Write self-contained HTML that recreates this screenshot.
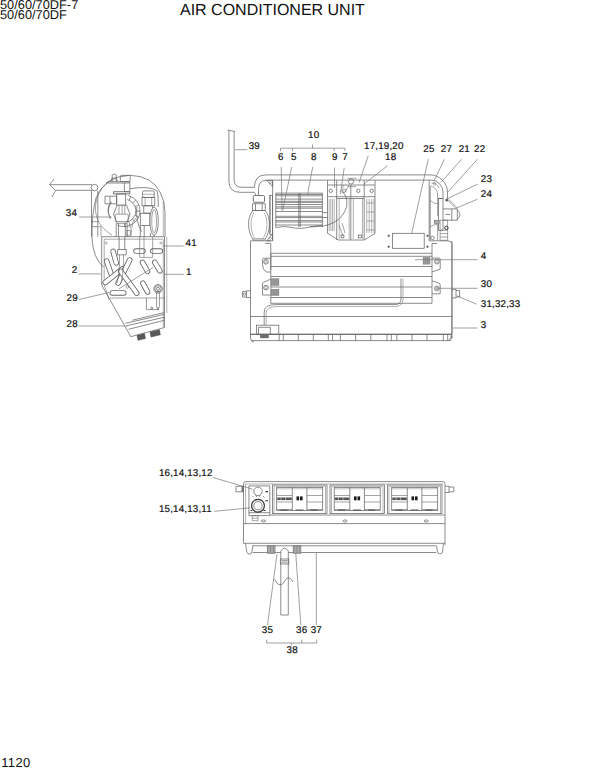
<!DOCTYPE html>
<html><head><meta charset="utf-8">
<style>
html,body{margin:0;padding:0;background:#fff;}
body{width:600px;height:776px;overflow:hidden;position:relative;}
svg{position:absolute;left:0;top:0;}
text{font-family:"Liberation Sans",sans-serif;fill:#111;stroke:#111;stroke-width:0.2px;text-rendering:geometricPrecision;}
.l{font-size:9.8px;letter-spacing:0.18px;}
.h{stroke:none;}
</style></head><body>
<svg width="600" height="776" viewBox="0 0 600 776">
<g fill="none" stroke="#666" stroke-width="0.75">
<g id="main">
<path d="M227.5,130 L235,131.6 M228.9,130.3 V181 Q228.9,192.3 240,192.3 H254.4 L256,195.2 M234.1,131.4 V180 Q234.1,187.3 242,187.3 H254.4" />
<path d="M254.4,187.6 Q254.4,174.9 266,174.9 H430 A17.5,17.5 0 0 1 447.5,192.4 V199" />
<path d="M258.5,195.2 V189 Q258.5,180.1 267,180.1 H431 A12,12 0 0 1 443,192.1 V198.3" />
<path d="M266.7,180.3 H272.6 V186.7 Z M266.7,240.8 H272.6 V233.5 Z M270,195 V233.5 M272.6,180.3 V240.8 M265,243.3 H270.8 V270" /><circle cx="270.5" cy="182.6" r="0.9" stroke-width="0.5"/><circle cx="270.5" cy="238.4" r="0.9" stroke-width="0.5"/>
<rect x="253.3" y="195.5" width="11.2" height="6.8" rx="1" stroke-width="0.9"/>
<rect x="252.5" y="203.8" width="12.7" height="6.7" /><path d="M255.5,203.8 V210.5 M262.2,203.8 V210.5" />
<path d="M253,210.5 C247,217 247,231 253.3,240 H264.7 C271,231 271,217 265,210.5 Z" /><path d="M254,212.5 C250,219 250,230 254.5,238 M264,212.5 C268,219 268,230 263.5,238 M253.5,238.5 H264.5" stroke-width="0.5"/>
<path d="M250.5,240.8 H270.8 M250.5,240.8 V338 Q250.8,342 254,342" />
<rect x="269.9" y="195.3" width="2.7" height="39.5" />
<path d="M275.8,194.5 H322.4 M275.8,195.8 H322.4 M275.8,199.1 H322.4 M275.8,201.3 H322.4 M275.8,202.4 H322.4 M275.8,204.5 H322.4 M275.8,206.8 H322.4 M275.8,208.2 H322.4 M275.8,211.5 H322.4 M275.8,216.3 H322.4 M275.8,217.6 H322.4 M275.8,220.6 H322.4 M275.8,222.0 H322.4 M275.8,225.0 H322.4 " stroke-width="0.75"/>
<path d="M275.8,193.1 V227.5 M298.8,193.1 V227 M300.2,193.1 V227 M322.4,193.1 V227 M275.8,193.1 H322.4" />
<path d="M275.8,227.5 Q285,225.5 292,227.5 T310,227 T322.4,226.5" />
<path d="M322.4,212.6 H327.5 M322.4,217.5 H327.5" />
<path d="M327.5,180.3 V233.3 L338.3,240 H364.2 L375,233.3 V180.3" />
<path d="M336.7,180.3 V240 M350.8,185 V240 M364.2,180.3 V240 M327.5,185 H375 M327.5,196.7 H375 M336.7,198.5 H364.2" />
<circle cx="330.8" cy="190.8" r="1.7" />
<circle cx="344.2" cy="190.8" r="1.7" />
<circle cx="358.3" cy="190.8" r="1.7" />
<circle cx="371.7" cy="190.8" r="1.7" />
<rect x="341.1" y="235" width="2.8" height="2.8" />
<rect x="358.6" y="235" width="2.8" height="2.8" />
<path d="M329.2,199 V231 M330.8,199 V231 M332.5,199 V231 M334.2,199 V231 M366.7,199 V233 M369.2,199 V233 M371.7,199 V233 M374,199 V233" stroke-width="0.5" />
<path d="M339.2,198.5 V239 M349.2,198.5 V239 M353.3,198.5 V239 M362.5,198.5 V239" stroke-width="0.5" />
<path d="M366.7,203 H374 M366.7,212 H374 M366.7,221 H374 M366.7,230 H374" stroke-width="0.5"/>
<path d="M310,226.7 Q340,228 346.7,206.7 Q348,195 341.7,191.7" />
<path d="M340,192 L344,185 M345,192 L349,185 M339,225 L343,236 M342,223 L345,233" stroke-width="0.6"/>
<circle cx="351" cy="181.5" r="2.6"/><path d="M347.5,178.3 H356.7 M348,186.7 H356" stroke-width="0.6"/>
<rect x="392.5" y="233.3" width="31.7" height="15" />
<circle cx="388.7" cy="235.8" r="0.8" fill="#444"/>
<circle cx="388.7" cy="246.7" r="0.8" fill="#444"/>
<circle cx="427.5" cy="235.8" r="0.8" fill="#444"/>
<circle cx="427.5" cy="246.7" r="0.8" fill="#444"/>
<path d="M429.2,180.3 V240.8 M430.2,186 V240" />
<path d="M431,186 Q437.6,188 437.6,195 V216" stroke-width="0.6"/>
<path d="M429.8,200.1 Q433,203.5 437.6,203.9 M429.8,227 Q433,224.4 437.6,224.4 V240.3" stroke-width="0.6"/>
<path d="M429.2,240.8 H448 Q451.9,240.8 451.9,244.5 V338 M437.2,243.5 H432 V253.3" />
<rect x="438.4" y="198.4" width="4.6" height="31.9" />
<path d="M443,208.9 H457.3 V220.2 H443 M451.8,208.9 V220.2 M457.3,209.8 Q462.5,214.6 457.3,219.4 M445.5,214.5 H450" />
<path d="M440.1,220.2 H447.6 V240.3 H440.1 Z M440.1,230.3 H447.6 M440.1,233.6 H447.6 M440.1,237 H447.6" stroke-width="0.6"/>
<rect x="434.2" y="220.2" width="5" height="3.4" fill="#aaa" stroke-width="0.5"/>
<circle cx="432.5" cy="237.8" r="1.7"/><circle cx="446.4" cy="227.8" r="1.7" stroke="#333" stroke-width="1"/><circle cx="446.8" cy="200.1" r="1.1" fill="#333"/>
<path d="M447.6,200.1 L456,208.5 M448.6,199.3 L457,207.7" stroke-width="0.6"/>
<path d="M438.4,198.4 H443" /><path d="M431.5,183 Q437,183 439,188" stroke-width="0.6"/><circle cx="434.5" cy="183.8" r="1.3" stroke-width="0.5"/>
<path d="M270.8,253.3 H432 M270.8,256.3 H432 M270.8,266.5 H432 M270.8,276.5 H432 M270.8,287 H432 M270.8,297.5 H432 M270.8,303.3 H432 M270.8,253.3 V303.3 M432,253.3 V303.3" />
<path d="M270.8,258.3 H263.5 Q262.5,258.3 262.5,259.5 V264.5 Q263,270.5 266.7,272 H270.8" /><circle cx="266" cy="261.8" r="2.4" /><circle cx="266" cy="261.8" r="1.3" stroke-width="0.5"/>
<path d="M270.8,279.2 L263.5,282.3 Q262.5,282.8 262.5,284 V295 H270.8" /><circle cx="266" cy="287.6" r="2.4" /><circle cx="266" cy="287.6" r="1.3" stroke-width="0.5"/>
<path d="M432,258.1 H439 Q440.2,258.1 440.2,259.3 V269 L432,272" /><circle cx="436.9" cy="261.6" r="2.4" /><circle cx="436.9" cy="261.6" r="1.3" stroke-width="0.5"/>
<path d="M432,280.8 L439,283.2 Q440.2,283.6 440.2,285 V293.8 H432" /><circle cx="436.9" cy="288.5" r="2.4" /><circle cx="436.9" cy="288.5" r="1.3" stroke-width="0.5"/>
<rect x="270.8" y="278.3" width="8.4" height="7.5" fill="#a0a0a0" stroke="none"/><path d="M271.6,278.3 V285.8 M273.3,278.3 V285.8 M275.0,278.3 V285.8 M276.7,278.3 V285.8 M278.4,278.3 V285.8 " stroke="#777" stroke-width="0.45"/>
<rect x="270.8" y="289" width="8.4" height="6.8" fill="#a0a0a0" stroke="none"/><path d="M271.6,289 V295.8 M273.3,289 V295.8 M275.0,289 V295.8 M276.7,289 V295.8 M278.4,289 V295.8 " stroke="#777" stroke-width="0.45"/>
<rect x="422.8" y="257" width="7.5" height="7.5" fill="#a0a0a0" stroke="none"/><path d="M423.7,257 V264.5 M425.6,257 V264.5 M427.5,257 V264.5 M429.4,257 V264.5 " stroke="#777" stroke-width="0.45"/>
<path d="M250.8,290.8 H246.5 V297.5 H250.8 M246.5,291.5 H242.5 V297 H246.5" /><circle cx="244.5" cy="294.2" r="1.2"/>
<path d="M452,289.4 H456 V298 H452 M456,290.5 H459.6 V297 H456" />
<path d="M401,278.6 V299 Q401,304.6 395,304.6 H276 Q264.2,304.6 264.2,312 V325" />
<path d="M403,278.6 V299 Q403,306.6 395,306.6 H277 Q266.2,306.6 266.2,313 V325" stroke-width="0.5"/>
<path d="M250.5,316.5 H452 M250.5,334.3 H452 M251.5,340.6 H449 Q452,340.6 452,336" /><path d="M250.5,334.3 H452" stroke-width="1"/>
<path d="M279.2,334.2 V340.8" />
<path d="M283.3,334.2 V340.8" />
<path d="M298.3,334.2 V340.8" />
<path d="M313.3,334.2 V340.8" />
<path d="M328.3,334.2 V340.8" />
<path d="M332.5,334.2 V340.8" />
<path d="M340.4,334.2 V340.8" />
<path d="M355.6,334.2 V340.8" />
<path d="M370.8,334.2 V340.8" />
<path d="M387,334.2 V340.8" />
<path d="M391.3,334.2 V340.8" />
<path d="M396.8,334.2 V340.8" />
<path d="M412,334.2 V340.8" />
<path d="M427,334.2 V340.8" />
<path d="M443.3,334.2 V340.8" />
<path d="M447.7,334.2 V340.8" />
<rect x="256.4" y="325.2" width="22.4" height="9.1" /><path d="M258.5,334.3 V327.3 H270.4 V334.3" />
<rect x="260.2" y="334.3" width="8.4" height="3.8" fill="#666" stroke="none"/><path d="M261.0,334.3 V338.1 M262.7,334.3 V338.1 M264.4,334.3 V338.1 M266.1,334.3 V338.1 M267.8,334.3 V338.1 " stroke="#777" stroke-width="0.70"/>
<path d="M452,240.8 V333 Q451,338 449,341" />
</g>
<g id="side">
<path d="M49.5,184.7 H92 M55.5,190.3 H92" />
<path d="M54,179 L49.5,184.5 L55.5,190.5 L52,197" />
<circle cx="94.5" cy="187.6" r="3.3" />
<path d="M91.5,191 V236.7 M97.8,191 V236.7 M91.5,226.7 H97.8" />
<path d="M103.3,267 Q93,258 92,238 Q91.5,215 96,198 Q105,176 130,175.3 Q152,176 160,192 Q165,201 165,212 V236.7" />
<path d="M109,181 C97,190 94,205 96,214 C98,224 104,230 112,235" stroke-width="0.6"/><path d="M91.7,221.7 H98.3 M98.3,226.7 H101 V236.7" stroke-width="0.6"/>
<path d="M101.7,236.7 H164.5 V327.5 L130.8,336.7 L101.7,285 Z" />
<path d="M104.2,239.2 H162.8 M104.2,239.2 V284.7 L109.2,300 M163.3,239.2 V327.5" stroke-width="0.55"/>
<path d="M110,298 H164.5" stroke-width="0.6"/><path d="M166.8,236.7 V313" stroke-width="0.5"/>
<circle cx="106.2" cy="243" r="1.1" stroke-width="0.5"/><circle cx="161" cy="243" r="1.1" stroke-width="0.5"/>
<path d="M112.2,181.7 V175 Q114.2,173 116.2,175 V181.7 M110.4,181.7 L112.2,178 H116.2 L118,181.7" />
<rect x="120.3" y="175.4" width="9.9" height="6.3" rx="1"/>
<path d="M106.3,183 Q108,181.7 110,181.7 H129.8 V183 Z M124.4,183 V191.7 H129.8 V183" />
<path d="M113.5,191.7 H129.8 V193.9 H113.5 Z" stroke-width="0.9"/>
<rect x="116.7" y="193.9" width="9" height="11.3"/>
<path d="M105,196.2 H116.7 V203.8 H105 Z M110,196.2 V203.8" />
<path d="M128.29,195.54 A15.8,15.8 0 1 1 117.52,225.12 M127.23,199.50 A11.7,11.7 0 1 1 119.26,221.40" />
<path d="M110.52,218.70 A15.8,15.8 0 0 1 111.26,201.74" stroke="#888" stroke-width="1.4"/>
<path d="M129.1,200.2 L130.9,196.5" stroke-width="0.7"/>
<path d="M132.8,202.8 L135.8,200.0" stroke-width="0.7"/>
<path d="M135.1,206.6 L139.0,205.1" stroke-width="0.7"/>
<path d="M135.9,211.0 L140.0,211.1" stroke-width="0.7"/>
<path d="M135.0,215.4 L138.7,217.0" stroke-width="0.7"/>
<path d="M132.5,219.1 L135.4,222.0" stroke-width="0.7"/>
<path d="M128.8,221.6 L130.4,225.3" stroke-width="0.7"/>
<path d="M124.4,222.5 L124.5,226.6" stroke-width="0.7"/>
<path d="M117,205.2 H126.5 L130,214.2 L126.5,223.2 H117 L113.5,214.2 Z" fill="#fff"/>
<path d="M115.3,214.2 H128.3 V221.5 H115.3 Z M119,205.2 V214.2 M122.1,205.2 V214.2 M124.8,205.2 V214.2" stroke-width="0.6"/>
<path d="M116.2,223.2 V236.7 M118.5,223.2 V236.7 M125.3,223.2 V236.7 M127.1,223.2 V236.7" />
<rect x="127" y="230.5" width="3.2" height="5.4" stroke-width="0.6"/>
<path d="M129,224 Q133,230 131,236 M136,218 Q131,222 132,228" stroke-width="0.6"/>
<rect x="142.5" y="190.9" width="11.8" height="6.5" rx="1.5"/><path d="M143,194.3 H154" stroke-width="0.5"/>
<rect x="142" y="197.4" width="12.8" height="8.4"/><path d="M145.1,197.4 V205.8 M151.7,197.4 V205.8" stroke-width="0.6"/>
<rect x="143.8" y="205.8" width="8.8" height="7.4"/>
<rect x="140.3" y="213.2" width="9.6" height="12.3"/>
<ellipse cx="154.1" cy="221.1" rx="4.2" ry="14.1" fill="#fff"/><ellipse cx="154.1" cy="221.1" rx="2.4" ry="11.8" stroke-width="0.6"/>
<path d="M130,188.7 Q150,185.5 157,190.9 Q158.3,194 158.3,207" />
<path d="M136.8,207 Q135.5,222 141.6,231.6 M140.3,225.5 V236.7 M144.2,225.5 V236.7 M150.4,233 V236.7 M154.3,235 V236.7" />
<path d="M163.3,201 V236.7" stroke-width="0.5"/>
<path d="M113.06,251.32 L116.24,262.88" stroke-width="5.5" stroke-linecap="round" /><path d="M113.06,251.32 L116.24,262.88" stroke="#fff" stroke-width="3.8" stroke-linecap="round" />
<path d="M106.68,261.06 L110.92,273.44" stroke-width="5.5" stroke-linecap="round" /><path d="M106.68,261.06 L110.92,273.44" stroke="#fff" stroke-width="3.8" stroke-linecap="round" />
<path d="M105.19,282.54 L122.31,268.96" stroke-width="5.5" stroke-linecap="round" /><path d="M105.19,282.54 L122.31,268.96" stroke="#fff" stroke-width="3.8" stroke-linecap="round" />
<path d="M129.68,260.05 L118.12,283.06" stroke-width="5.5" stroke-linecap="round" /><path d="M129.68,260.05 L118.12,283.06" stroke="#fff" stroke-width="3.8" stroke-linecap="round" />
<path d="M120.78,271.33 L136.72,293.17" stroke-width="5.5" stroke-linecap="round" /><path d="M120.78,271.33 L136.72,293.17" stroke="#fff" stroke-width="3.8" stroke-linecap="round" />
<path d="M112.33,292.9 L123.77,292.9" stroke-width="5.5" stroke-linecap="round" /><path d="M112.33,292.9 L123.77,292.9" stroke="#fff" stroke-width="3.8" stroke-linecap="round" />
<path d="M135.97,251.1 L142.93,251.1" stroke-width="5.5" stroke-linecap="round" /><path d="M135.97,251.1 L142.93,251.1" stroke="#fff" stroke-width="3.8" stroke-linecap="round" />
<path d="M152.82,251.1 L160.38,251.1" stroke-width="5.5" stroke-linecap="round" /><path d="M152.82,251.1 L160.38,251.1" stroke="#fff" stroke-width="3.8" stroke-linecap="round" />
<path d="M142.52,262.43 L147.48,271.28" stroke-width="5.5" stroke-linecap="round" /><path d="M142.52,262.43 L147.48,271.28" stroke="#fff" stroke-width="3.8" stroke-linecap="round" />
<path d="M154.7,262.35 L159.9,270.85" stroke-width="5.5" stroke-linecap="round" /><path d="M154.7,262.35 L159.9,270.85" stroke="#fff" stroke-width="3.8" stroke-linecap="round" />
<path d="M142.84,283.12 L147.56,291.98" stroke-width="5.5" stroke-linecap="round" /><path d="M142.84,283.12 L147.56,291.98" stroke="#fff" stroke-width="3.8" stroke-linecap="round" />
<path d="M158,292.2 V306.7" stroke-width="3.2" stroke-linecap="round"/><path d="M158,292.2 V306.7" stroke="#fff" stroke-width="1.9" stroke-linecap="round"/>
<path d="M119.1,236.7 V249.6 M124.8,236.7 V249.6" /><rect x="117.7" y="249.6" width="8.5" height="5.3" fill="#fff"/>
<path d="M119.5,254.9 Q120,272 117,283 M123.5,254.9 Q124,272 121,283" stroke-width="0.6"/>
<path d="M139.7,236.7 V257.4 H152.7 V236.7 M144,236.7 V257.4" stroke-width="0.6"/>
<circle cx="127.3" cy="286.8" r="1.4" stroke-width="0.6"/>
<circle cx="158" cy="288.8" r="4.3"/><circle cx="158" cy="288.8" r="3.2"/><circle cx="158" cy="288.8" r="1.5"/>
<path d="M146.4,298 V309.6 H159" stroke-width="0.7"/><circle cx="151.7" cy="308.1" r="1" /><circle cx="158" cy="309" r="0.7" />
<path d="M125.5,323.3 L164,314.4 M132.5,320.2 L164,312.6 M127,325.6 L164,317.4 M128.5,329.3 L164,320.4" />
<path d="M137,335.5 L144.5,333.5 L145.5,338.5 L138,340.3 Z M150,332 L159.5,329.8 L160.3,334.8 L151,337 Z" fill="#5a5a5a" stroke="#444" stroke-width="0.5"/>
</g>
<g id="front">
<path d="M243.5,543.3 V484 Q243.5,481.6 246,481.6 H442.5 Q445,481.6 445,484 V545" />
<path d="M245.6,484 H443 M245.6,484 V523.5" stroke-width="0.5"/>
<path d="M243.5,523.6 H445 M243.5,543.3 H445 M270,515 H445" />
<path d="M245.5,543.3 L246.8,552 Q247.5,554.2 249.5,554.2 Q251.5,554.2 251.8,552 L253,545.8 M436.5,545.8 L437.5,552 Q438,553.9 440,553.9 Q442,553.9 442.5,552 L443.5,543.5" />
<path d="M252.5,545.8 H436.25 M252.5,552.5 H267.5 M275,552.5 H280.8 M288.3,552.5 H293.3 M300.8,552.5 H436.25" />
<path d="M236,486.3 H243.5 V491.8 H236 Z" /><path d="M242.3,486 V492" stroke-width="1.6" stroke="#777"/>
<path d="M248.9,485.9 H269.8 V515.6 H248.9 Z M248.9,512.7 H269.8" />
<circle cx="258" cy="491.4" r="4.25"/><path d="M255.5,494.5 L256.8,497 M260.5,494.5 L259.2,497 M252.8,496 L253.3,497 M263,496 L264.5,497.5" stroke-width="0.7"/>
<circle cx="258" cy="505.7" r="6.4" stroke="#333" stroke-width="1.2"/><circle cx="258" cy="505.7" r="4.1"/>
<path d="M265.5,491.6 H268 M265.3,500.8 H268 M250.5,510.5 H252.3 M263.5,510.5 H265.5" stroke="#333" stroke-width="1.1"/>
<path d="M252.2,515.6 H258 V520.7 H252.2 Z M252.2,518.2 H258" stroke-width="0.6"/><ellipse cx="263.5" cy="520.9" rx="2.2" ry="1"/>
<rect x="272.5" y="485" width="54.5" height="28.5" />
<path d="M274.0,486.3 H325.5 M274.0,486.3 V513.5 M325.5,486.3 V513.5" stroke-width="0.5"/>
<rect x="276.7" y="487.5" width="46" height="23" />
<path d="M292.3,487.5 V510.5 M306.9,487.5 V510.5" />
<path d="M276.7,495.5 H292.3 M276.7,502 H292.3 M276.7,509.5 H292.3 M306.9,495.5 H322.7 M306.9,502 H322.7 M306.9,509.5 H322.7" stroke-width="0.6"/>
<path d="M276.7,488.8 H322.7" stroke-width="0.4"/>
<rect x="277.3" y="497.5" width="14.5" height="2.6" fill="#555" stroke="none"/><path d="M281.0,497.5 V500.1 M285.5,497.5 V500.1" stroke="#fff" stroke-width="0.5"/>
<rect x="296.5" y="496.4" width="2.6" height="3.9" fill="#1a1a1a" stroke="none"/><rect x="300.0" y="496.4" width="2.6" height="3.9" fill="#1a1a1a" stroke="none"/>
<path d="M280.5,510 H287.5 M295.5,510 H303.5 M310.5,510 H317.5" stroke="#444" stroke-width="0.9"/>
<rect x="330" y="485" width="54.5" height="28.5" />
<path d="M331.5,486.3 H383 M331.5,486.3 V513.5 M383,486.3 V513.5" stroke-width="0.5"/>
<rect x="334.2" y="487.5" width="46" height="23" />
<path d="M349.8,487.5 V510.5 M364.4,487.5 V510.5" />
<path d="M334.2,495.5 H349.8 M334.2,502 H349.8 M334.2,509.5 H349.8 M364.4,495.5 H380.2 M364.4,502 H380.2 M364.4,509.5 H380.2" stroke-width="0.6"/>
<path d="M334.2,488.8 H380.2" stroke-width="0.4"/>
<rect x="334.8" y="497.5" width="14.5" height="2.6" fill="#555" stroke="none"/><path d="M338.5,497.5 V500.1 M343,497.5 V500.1" stroke="#fff" stroke-width="0.5"/>
<rect x="354" y="496.4" width="2.6" height="3.9" fill="#1a1a1a" stroke="none"/><rect x="357.5" y="496.4" width="2.6" height="3.9" fill="#1a1a1a" stroke="none"/>
<path d="M338,510 H345 M353,510 H361 M368,510 H375" stroke="#444" stroke-width="0.9"/>
<rect x="387.5" y="485" width="54.5" height="28.5" />
<path d="M389.0,486.3 H440.5 M389.0,486.3 V513.5 M440.5,486.3 V513.5" stroke-width="0.5"/>
<rect x="391.7" y="487.5" width="46" height="23" />
<path d="M407.3,487.5 V510.5 M421.9,487.5 V510.5" />
<path d="M391.7,495.5 H407.3 M391.7,502 H407.3 M391.7,509.5 H407.3 M421.9,495.5 H437.7 M421.9,502 H437.7 M421.9,509.5 H437.7" stroke-width="0.6"/>
<path d="M391.7,488.8 H437.7" stroke-width="0.4"/>
<rect x="392.3" y="497.5" width="14.5" height="2.6" fill="#555" stroke="none"/><path d="M396.0,497.5 V500.1 M400.5,497.5 V500.1" stroke="#fff" stroke-width="0.5"/>
<rect x="411.5" y="496.4" width="2.6" height="3.9" fill="#1a1a1a" stroke="none"/><rect x="415.0" y="496.4" width="2.6" height="3.9" fill="#1a1a1a" stroke="none"/>
<path d="M395.5,510 H402.5 M410.5,510 H418.5 M425.5,510 H432.5" stroke="#444" stroke-width="0.9"/>
<ellipse cx="345" cy="521" rx="2" ry="1.1"/>
<ellipse cx="426.25" cy="521" rx="2" ry="1.1"/>
<path d="M445,486.25 H449 V492.5 H445 M449,487 H453.75 V491.8 H449" />
<path d="M267.5,545.8 H275 V553.3 H267.5 Z M293.3,545.8 H300.8 V553.3 H293.3 Z" fill="#c8c8c8"/>
<path d="M269,546 V553 M270.5,546 V553 M272,546 V553 M273.5,546 V553 M294.8,546 V553 M296.3,546 V553 M297.8,546 V553 M299.3,546 V553" stroke-width="0.6"/>
<path d="M280.8,615 V551 Q284.5,545.5 288.3,551 V615 Z" /><rect x="280.3" y="559" width="8.5" height="5" /><path d="M282,560.5 H287.5 M282,562.5 H287.5" stroke-width="0.5"/>
<path d="M281.5,561 H287.5" stroke-width="0.5"/>
<path d="M274.5,579 Q277,585 280,585 Q283,585 285,580.5 Q287,577 289.5,578 Q292,579 292.8,582" stroke-width="0.75"/>
</g>
<g id="lead" stroke="#777" stroke-width="0.7">
<path d="M235,149.7 H247.5" />
<path d="M280.5,151.2 V148.2 H345 V151.2 M292.5,148.2 V151.2 M312.5,144.5 V148.2 M334.2,148.2 V151.2" />
<path d="M281.2,167 L282,210.5 M291.7,167 L282.7,210.5 M312.7,167 L307.5,194.7 M334.5,167.7 V188 M344.2,167.7 L340.5,194" />
<path d="M368.3,155.8 L359,182.5 M387.5,165.8 L364,184" />
<path d="M428.3,159.2 L411.7,233.3 M444.5,159.2 L434,180.8 M461.7,159.2 L440.8,182.5 M477.5,159.2 L447.5,192.5 M477.5,184.2 L446.7,199 M477.5,199.2 L455.8,208.3" />
<path d="M415,259.7 H477.5 M436,288.3 H477.5 M456.7,295.8 L476.7,304.2 M452.5,328 H477.5" />
<path d="M79.2,217 H111.7 M162.7,246 H183.7 M163.8,274.3 H183.7 M78.7,273.9 H100.8 M78.7,299.6 L109,292.5 M119,288.8 L153,267.5 M78.7,326 H127.7" />
<path d="M213,477.5 L252.7,489.2 M214.2,511.3 L250.3,507.8" />
<path d="M267.5,625 L277,554 M300.8,625 L295.8,554 M316.3,552.5 V625" />
<path d="M266.7,639.7 V643 H316.7 V639.7 M301.7,639.7 V643 M291.3,643 V645.5" />
</g>
</g>
<g id="txt">
<text x="0" y="8.8" class="h" style="font-size:12.8px">50/60/70DF-7</text>
<text x="0" y="18.8" class="h" style="font-size:12.8px">50/60/70DF</text>
<text x="180" y="15" class="h" style="font-size:16px">AIR CONDITIONER UNIT</text>
<text x="1.2" y="766.6" class="h" style="font-size:13px;letter-spacing:0.4px">1120</text>
<g class="l">
<text x="248.7" y="149.2">39</text>
<text x="308" y="137.7">10</text>
<text x="278" y="160.2">6</text>
<text x="291" y="160.2">5</text>
<text x="311" y="160.2">8</text>
<text x="332" y="160.2">9</text>
<text x="342.3" y="160.2">7</text>
<text x="364" y="149.1">17,19,20</text>
<text x="385" y="160.2">18</text>
<text x="423.3" y="152.4">25</text>
<text x="440.8" y="152.4">27</text>
<text x="458.7" y="152.4">21</text>
<text x="474" y="152.4">22</text>
<text x="480.8" y="181.9">23</text>
<text x="480.8" y="197.4">24</text>
<text x="480.8" y="259.1">4</text>
<text x="480.8" y="287.4">30</text>
<text x="480.8" y="306.6">31,32,33</text>
<text x="480.8" y="327.9">3</text>
<text x="65.8" y="215.9">34</text>
<text x="185.5" y="245.6">41</text>
<text x="186" y="274.8">1</text>
<text x="71.7" y="272.7">2</text>
<text x="66.5" y="300.9">29</text>
<text x="66.5" y="326.8">28</text>
<text x="158.9" y="476.2">16,14,13,12</text>
<text x="158.9" y="511.7">15,14,13,11</text>
<text x="261.8" y="632.9">35</text>
<text x="296" y="632.9">36</text>
<text x="310.7" y="632.9">37</text>
<text x="286.5" y="653.3">38</text>
</g>
</g>
</svg>
</body></html>
